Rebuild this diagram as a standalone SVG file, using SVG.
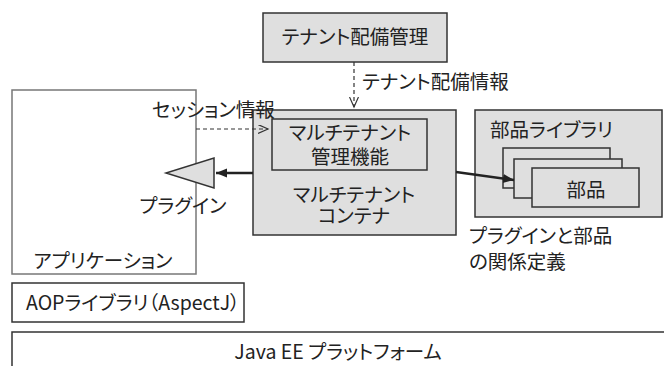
<svg xmlns="http://www.w3.org/2000/svg" width="664" height="366" viewBox="0 0 664 366">
<defs>
<style>
text{font-family:"Noto Sans CJK JP","Noto Sans",sans-serif;font-size:19.5px;fill:#222;font-feature-settings:"palt"}
.c{text-anchor:middle}
.gbox{fill:#dfdfdf;stroke:#333;stroke-width:1.5}
.wbox{fill:#fff;stroke:#333;stroke-width:1.5}
.abox{fill:#fff;stroke:#777;stroke-width:1.5}
.dash{fill:none;stroke:#333;stroke-width:1.2;stroke-dasharray:4 3}
.thick{fill:none;stroke:#222;stroke-width:2.5}
</style>
<marker id="af" markerUnits="userSpaceOnUse" markerWidth="12" markerHeight="10" refX="11" refY="4.5" orient="auto">
<path d="M0,0 L11,4.5 L0,9 z" fill="#222"/>
</marker>
<marker id="ao" markerUnits="userSpaceOnUse" markerWidth="12" markerHeight="10" refX="10" refY="4.5" orient="auto">
<path d="M0,0 L10,4.5 L0,9" fill="none" stroke="#333" stroke-width="1.2"/>
</marker>
</defs>
<g id="deploy-mgmt">
<rect class="gbox" x="263" y="13" width="184" height="49"/>
<text class="c" x="355" y="44">テナント配備管理</text>
</g>
<g id="application">
<rect class="abox" x="12" y="90" width="184" height="184"/>
<text class="c" x="103" y="268">アプリケーション</text>
</g>
<g id="container">
<rect class="gbox" x="253" y="110" width="203" height="125"/>
<text class="c" x="354" y="202">マルチテナント</text>
<text class="c" x="354" y="223">コンテナ</text>
</g>
<g id="mt-function">
<rect class="gbox" x="272" y="119" width="155" height="51"/>
<text class="c" x="350" y="140">マルチテナント</text>
<text class="c" x="350" y="164">管理機能</text>
</g>
<g id="plugin">
<polygon points="214,158 214,188 166,173" fill="#dfdfdf" stroke="#333" stroke-width="1.5"/>
<text class="c" x="183" y="213">プラグイン</text>
</g>
<g id="parts-library">
<rect class="gbox" x="475" y="110" width="187" height="107"/>
<text x="490" y="137">部品ライブラリ</text>
</g>
<g id="parts">
<rect class="gbox" x="503" y="148" width="107" height="40"/>
<rect class="gbox" x="514" y="159" width="108" height="39"/>
<rect class="gbox" x="532" y="168" width="107" height="39"/>
<text class="c" x="586" y="197">部品</text>
</g>
<g id="relation-def">
<text x="469" y="243">プラグインと部品</text>
<text x="469" y="269">の関係定義</text>
</g>
<g id="aop">
<rect class="wbox" x="12" y="283" width="232" height="39"/>
<text x="26" y="310">AOPライブラリ（AspectJ）</text>
</g>
<g id="javaee">
<rect class="wbox" x="12" y="332" width="660" height="50"/>
<text class="c" x="338" y="359">Java EE プラットフォーム</text>
</g>
<g id="connectors">
<line class="dash" x1="354" y1="62" x2="354" y2="107" marker-end="url(#ao)"/>
<text x="362" y="89">テナント配備情報</text>
<line class="dash" x1="196" y1="129" x2="268" y2="129" marker-end="url(#ao)"/>
<text x="152" y="117">セッション情報</text>
<line class="thick" x1="253" y1="173" x2="216" y2="173" marker-end="url(#af)"/>
<line class="thick" x1="456" y1="172" x2="514" y2="180" marker-end="url(#af)"/>
</g>
</svg>
